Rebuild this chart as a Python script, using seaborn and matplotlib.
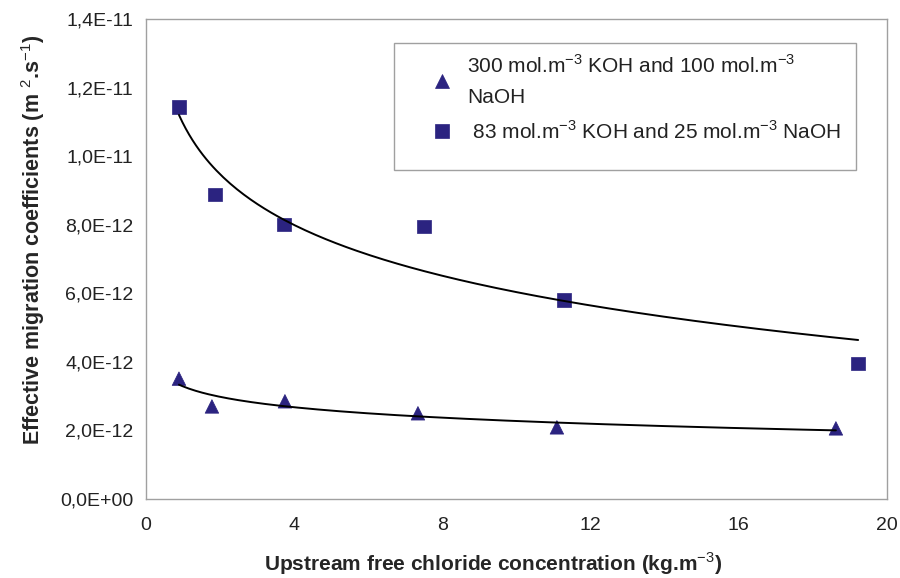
import numpy as np
import pandas as pd
import seaborn as sns
import matplotlib.pyplot as plt
from matplotlib.patches import Rectangle
from matplotlib.ticker import FuncFormatter, MultipleLocator

# values
conc_koh300 = [0.89, 1.78, 3.75, 7.34, 11.09, 18.62]
coef_koh300 = [3.51e-12, 2.70e-12, 2.85e-12, 2.50e-12, 2.09e-12, 2.06e-12]
conc_koh83 = [0.89, 1.86, 3.72, 7.50, 11.28, 19.22]
coef_koh83 = [11.44e-12, 8.88e-12, 8.01e-12, 7.95e-12, 5.81e-12, 3.95e-12]

label_300 = "300 mol.m$^{-3}$ KOH and 100 mol.m$^{-3}$\nNaOH"
label_83 = " 83 mol.m$^{-3}$ KOH and 25 mol.m$^{-3}$ NaOH"

df = pd.concat([
    pd.DataFrame({"conc": conc_koh300, "coef": coef_koh300, "series": label_300}),
    pd.DataFrame({"conc": conc_koh83, "coef": coef_koh83, "series": label_83}),
])


# logarithmic trend lines, like the spreadsheet ones
def log_trend(x, y):
    x = np.asarray(x)
    b, a = np.polyfit(np.log(x), np.asarray(y), 1)
    xs = np.linspace(x.min(), x.max(), 200)
    return pd.DataFrame({"conc": xs, "coef": a + b * np.log(xs)})


sns.set_style("white")
plt.rcParams['font.family'] = ['Liberation Sans', 'DejaVu Sans']
plt.rcParams['mathtext.fontset'] = 'custom'
plt.rcParams['mathtext.rm'] = 'Liberation Sans'
plt.rcParams['mathtext.bf'] = 'Liberation Sans:bold'

fig = plt.figure(figsize=(9, 5.78), dpi=100)
ax = fig.add_axes([0.1622, 0.1367, 0.8234, 0.8304])

navy = "#2b2380"
for xs, ys in [(conc_koh300, coef_koh300), (conc_koh83, coef_koh83)]:
    sns.lineplot(data=log_trend(xs, ys), x="conc", y="coef", color="black",
                 linewidth=1.4, ax=ax, legend=False)

sns.scatterplot(data=df, x="conc", y="coef", style="series",
                markers={label_300: "^", label_83: "s"},
                hue="series", palette={label_300: navy, label_83: navy},
                s=95, edgecolor=navy, linewidth=0.5, ax=ax)

ax.set_xlim(0, 20)
ax.set_ylim(0, 1.4e-11)
ax.xaxis.set_major_locator(MultipleLocator(4))
ax.yaxis.set_major_locator(MultipleLocator(2e-12))
ax.yaxis.set_major_formatter(FuncFormatter(lambda v, p: f"{v:.1E}".replace('.', ',')))
ax.yaxis.get_offset_text().set_visible(False)

for sp in ax.spines.values():
    sp.set_color("#a0a0a0")
    sp.set_linewidth(1.0)
ax.tick_params(axis="both", direction="out", length=5, width=1, color="#a0a0a0",
               labelsize=14, labelcolor="#222222")
ax.tick_params(axis="x", pad=8)
ax.tick_params(axis="y", pad=4)

ax.set_xlabel("Upstream free chloride concentration (kg.m$^{-3}$)",
              fontsize=15, fontweight="bold")
ax.set_ylabel("Effective migration coefficients (m $^{2}$.s$^{-1}$)",
              fontsize=15.5, fontweight="bold")
ax.xaxis.set_label_coords(0.468, -0.108)
ax.yaxis.set_label_coords(-0.134, 0.539)

# legend box as in the reference: more room below the entries
box = Rectangle((394 / 900, 1 - 170 / 578), 462 / 900, 127 / 578,
                transform=fig.transFigure, facecolor="white",
                edgecolor="#a0a0a0", linewidth=1.0, zorder=4, clip_on=False)
ax.add_artist(box)
leg = ax.legend(loc="upper left", bbox_to_anchor=(417 / 900, 1 - 44 / 578),
                bbox_transform=fig.transFigure, fontsize=15, frameon=False,
                borderpad=0, labelspacing=0.6, handletextpad=0.5,
                handlelength=1.4)
leg.set_zorder(6)
for t in leg.get_texts():
    t.set_color("#222222")
    t.set_linespacing(1.75)

plt.savefig("out.png", dpi=100)
